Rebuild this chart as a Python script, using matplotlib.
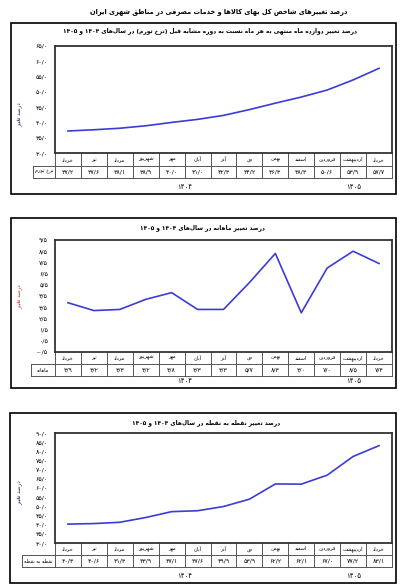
import re
import matplotlib
matplotlib.use("Agg")
import matplotlib.pyplot as plt
from matplotlib.patches import Rectangle

W, H = 407, 587

# data (month order left -> right)
months = ["خرداد", "تیر", "مرداد", "شهریور", "مهر", "آبان", "آذر", "دی",
          "بهمن", "اسفند", "فروردین", "اردیبهشت", "خرداد"]
years = ["۱۴۰۴", "۱۴۰۵"]
year_spans = [(0, 9), (10, 12)]

inflation = [37.2, 37.6, 38.1, 38.9, 40.0, 41.0, 42.3, 44.2, 46.3, 48.3, 50.6, 53.9, 57.7]
monthly = [3.9, 3.2, 3.3, 4.2, 4.8, 3.3, 3.3, 5.7, 8.3, 3.0, 7.0, 8.5, 7.4]
point_to_point = [40.3, 40.6, 41.3, 43.9, 47.1, 47.6, 49.9, 53.9, 62.2, 62.1, 67.0, 77.2, 83.1]

ticks_inflation = [30, 35, 40, 45, 50, 55, 60, 65]
ticks_monthly = [-0.5, 0.5, 1.5, 2.5, 3.5, 4.5, 5.5, 6.5, 7.5, 8.5, 9.5]
ticks_ptp = [30, 35, 40, 45, 50, 55, 60, 65, 70, 75, 80, 85, 90]

main_title = "درصد تغییرهای شاخص کل بهای کالاها و خدمات مصرفی در مناطق شهری ایران"
title_inflation = "درصد تغییر دوازده ماه منتهی به هر ماه نسبت به دوره مشابه قبل (نرخ تورم) در سال‌های ۱۴۰۴ و ۱۴۰۵"
title_monthly = "درصد تغییر ماهانه در سال‌های ۱۴۰۴ و ۱۴۰۵"
title_ptp = "درصد تغییر نقطه به نقطه در سال‌های ۱۴۰۴ و ۱۴۰۵"
ylab = "درصد تغییر"

# --- minimal persian shaping + rtl ordering (matplotlib has no bidi) ---
DUAL = {"ب": 0xFE8F, "ت": 0xFE95, "ث": 0xFE99, "ج": 0xFE9D, "ح": 0xFEA1, "خ": 0xFEA5,
        "س": 0xFEB1, "ش": 0xFEB5, "ص": 0xFEB9, "ض": 0xFEBD, "ط": 0xFEC1, "ظ": 0xFEC5,
        "ع": 0xFEC9, "غ": 0xFECD, "ف": 0xFED1, "ق": 0xFED5, "ل": 0xFEDD, "م": 0xFEE1,
        "ن": 0xFEE5, "ه": 0xFEE9, "پ": 0xFB56, "چ": 0xFB7A, "ک": 0xFB8E, "گ": 0xFB92,
        "ی": 0xFBFC}
RIGHT = {"ا": 0xFE8D, "آ": 0xFE81, "د": 0xFEA9, "ذ": 0xFEAB, "ر": 0xFEAD, "ز": 0xFEAF,
         "ژ": 0xFB8A, "و": 0xFEED}


def shape(s):
    out = []
    i = 0
    while i < len(s):
        c = s[i]
        if c not in DUAL and c not in RIGHT:
            if c != "\u200c":
                out.append(c)
            i += 1
            continue
        p = i > 0 and s[i - 1] in DUAL
        nxt = s[i + 1] if i + 1 < len(s) else ""
        if c == "ل" and nxt in ("ا", "آ"):
            base = 0xFEFB if nxt == "ا" else 0xFEF5
            out.append(chr(base + (1 if p else 0)))
            i += 2
            continue
        if c in RIGHT:
            out.append(chr(RIGHT[c] + (1 if p else 0)))
        else:
            q = nxt in DUAL or nxt in RIGHT
            out.append(chr(DUAL[c] + (3 if p and q else 1 if p else 2 if q else 0)))
        i += 1
    return "".join(out)


def fa(s):
    toks = re.findall(r"[۰-۹0-9][۰-۹0-9/]*|.", shape(s))
    mirror = {"(": ")", ")": "("}
    return "".join(mirror.get(t, t) for t in reversed(toks))


PD = str.maketrans("0123456789.", "۰۱۲۳۴۵۶۷۸۹/")


def fnum(v):
    return f"{v:.1f}".translate(PD)


LINE = "#3b3bd8"
FONT = "DejaVu Sans"

fig = plt.figure(figsize=(W / 100, H / 100), dpi=100)
fig.text(219 / W, 1 - 12 / H, fa(main_title), ha="center", va="center",
         fontsize=4.8, fontweight="bold", family=FONT)


def panel(box, area, label_left, row1, row2, year_y, title, title_xy,
          values, yticks, row_name, ylab_color, ylab_y):
    x0, y0, x1, y1 = box
    fig.patches.append(Rectangle((x0 / W, 1 - y1 / H), (x1 - x0) / W, (y1 - y0) / H,
                                 transform=fig.transFigure, fill=False,
                                 lw=1.2, ec="black"))
    fig.text(title_xy[0] / W, 1 - title_xy[1] / H, fa(title), ha="center", va="center",
             fontsize=4.2, fontweight="bold", family=FONT)
    fig.text(20 / W, 1 - ylab_y / H, fa(ylab), rotation=90, ha="center", va="center",
             fontsize=4.0, color=ylab_color, family=FONT)

    ax0, ay0, ax1, ay1 = area
    ax = fig.add_axes([ax0 / W, 1 - ay1 / H, (ax1 - ax0) / W, (ay1 - ay0) / H])
    n = len(values)
    ax.plot(range(n), values, color=LINE, lw=1.2)
    ax.set_xlim(-0.5, n - 0.5)
    ax.set_ylim(yticks[0], yticks[-1])
    ax.set_yticks(yticks)
    ax.set_yticklabels([fnum(v) for v in yticks], fontsize=4.5, family=FONT)
    ax.set_xticks([])
    ax.tick_params(axis="y", length=0, pad=5)
    for sp in ax.spines.values():
        sp.set_linewidth(1.3)
        sp.set_color("#333333")

    ph = ay1 - ay0
    col = (ax1 - ax0) / n

    def fy(py):
        return -(py - ay1) / ph

    tr = ax.get_xaxis_transform()
    ym, yb = fy(row1), fy(row2)
    xl = -0.5 - (ax0 - label_left) / col
    kw = dict(transform=tr, clip_on=False, color="#555555", lw=0.7)
    ax.plot([-0.5, n - 0.5], [ym, ym], **kw)
    ax.plot([xl, n - 0.5], [yb, yb], **kw)
    ax.plot([xl, -0.5], [ym, ym], **kw)
    ax.plot([xl, xl], [ym, yb], **kw)
    for i in range(n + 1):
        ax.plot([i - 0.5, i - 0.5], [0, yb], **kw)
    for i in range(n):
        ax.text(i, ym / 2, fa(months[i]), transform=tr, ha="center", va="center",
                fontsize=3.6, family=FONT)
        ax.text(i, (ym + yb) / 2, fnum(values[i]), transform=tr, ha="center",
                va="center", fontsize=4.5, family=FONT)
    ax.text((xl - 0.5) / 2, (ym + yb) / 2, fa(row_name), transform=tr, ha="center",
            va="center", fontsize=3.6, family=FONT)
    for yr, (a, b) in zip(years, year_spans):
        ax.text((a + b) / 2, fy(year_y), yr, transform=tr, ha="center", va="center",
                fontsize=5, family=FONT)


panel((11, 23, 396, 194), (55, 46, 392, 153), 33, 166, 178, 187,
      title_inflation, (210, 31), inflation, ticks_inflation, "نرخ تورم",
      "#1f2a5a", 115)
panel((11, 218, 396, 388), (55, 240, 392, 352), 31, 364, 376, 381,
      title_monthly, (202, 228), monthly, ticks_monthly, "ماهانه",
      "#c0392b", 297)
panel((10, 413, 396, 583), (55, 433, 392, 543), 22, 555, 567, 576,
      title_ptp, (206, 423), point_to_point, ticks_ptp, "نقطه به نقطه",
      "#1f2a5a", 493)

fig.savefig("out.png", dpi=100)
